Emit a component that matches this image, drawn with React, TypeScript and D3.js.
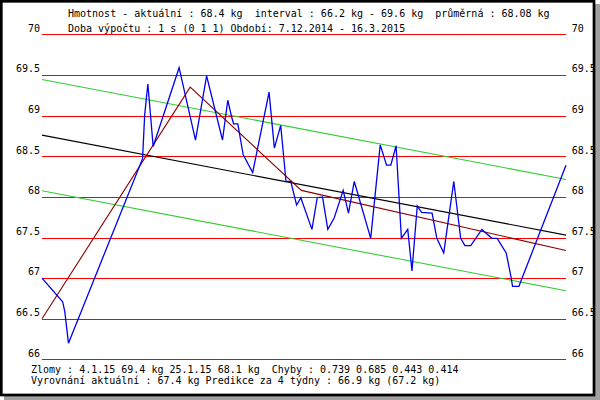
import React from "react";
import * as d3 from "d3";

const startDate = Date.UTC(2014, 11, 7);
const endDate = Date.UTC(2015, 2, 16);

const yTicks = [70, 69.5, 69, 68.5, 68, 67.5, 67, 66.5, 66];

const blueDays = [0, 3.9, 4.3, 5.0, 19.0, 19.4, 20.0, 20.5, 21.0, 25.9, 29.0, 31.1, 34.1, 35.1, 35.8, 36.2, 37.0, 38.0, 39.8, 42.9, 43.9, 45.1, 46.1, 47.0, 48.1, 48.9, 51.0, 52.0, 53.0, 54.0, 55.2, 56.9, 57.9, 59.0, 62.1, 63.9, 65.1, 65.9, 66.9, 67.9, 69.1, 69.9, 70.9, 71.7, 73.7, 74.6, 75.9, 77.8, 79.1, 79.9, 81.0, 83.1, 85.0, 86.0, 87.7, 88.6, 88.9, 90.1, 99];
const blueValues = [67.00, 66.71, 66.59, 66.20, 68.47, 69.01, 69.39, 69.01, 68.62, 69.59, 68.70, 69.49, 68.70, 69.19, 68.99, 68.90, 68.90, 68.52, 68.30, 69.29, 68.60, 68.88, 68.19, 68.19, 67.90, 67.99, 67.60, 67.99, 68.00, 67.60, 67.74, 68.08, 67.80, 68.19, 67.49, 68.64, 68.39, 68.39, 68.63, 67.49, 67.60, 67.09, 67.89, 67.81, 67.80, 67.49, 67.31, 68.19, 67.49, 67.40, 67.40, 67.60, 67.49, 67.49, 67.31, 67.02, 66.90, 66.90, 68.39];

const regDays = [0, 99];
const regValues = [68.76, 67.53];
const bandOffset = 0.685;

const breakDays = [0, 28, 49, 99];
const breakValues = [66.5, 69.35, 68.08, 67.34];

const headerLines = [
  "Hmotnost - aktuální : 68.4 kg  interval : 66.2 kg - 69.6 kg  průměrná : 68.08 kg",
  "Doba výpočtu : 1 s (0 1 1) Období: 7.12.2014 - 16.3.2015",
];
const footerLines = [
  "Zlomy : 4.1.15 69.4 kg 25.1.15 68.1 kg  Chyby : 0.739 0.685 0.443 0.414",
  "Vyrovnání aktuální : 67.4 kg Predikce za 4 týdny : 66.9 kg (67.2 kg)",
];

const dayToDate = (d: number) => new Date(startDate + d * 86400000);

export default function App() {
  const W = 600;
  const H = 400;
  const x = d3.scaleUtc().domain([new Date(startDate), new Date(endDate)]).range([42, 566]);
  const y = d3.scaleLinear().domain([66, 70]).range([359.4, 34.4]);

  const line = d3
    .line<[number, number]>()
    .x((p) => x(dayToDate(p[0])))
    .y((p) => y(p[1]));

  const zip = (ds: number[], vs: number[], off = 0) =>
    ds.map((d, i) => [d, vs[i] + off] as [number, number]);

  const font = "'DejaVu Sans Mono', monospace";

  return (
    <svg
      width={W}
      height={H}
      style={{ position: "fixed", left: 0, top: 0, background: "#fff" }}
      fontFamily={font}
      fontSize={10}
    >
      <rect x={4} y={4} width={596} height={396} fill="#a0a0a0" />
      <rect x={1.3} y={1.3} width={592.7} height={393.7} fill="#fff" stroke="#000" strokeWidth={2.7} />

      {yTicks.map((t) => (
        <g key={t}>
          <line
            x1={x.range()[0]}
            x2={x.range()[1]}
            y1={Math.round(y(t)) + 0.5}
            y2={Math.round(y(t)) + 0.5}
            stroke="#ff0000"
            strokeWidth={1.2}
          />
          <text x={40} y={y(t) - 2.7} textAnchor="end" fill="#000">
            {String(t)}
          </text>
          <text x={571.7} y={y(t) - 2.7} fill="#000">
            {String(t)}
          </text>
        </g>
      ))}

      <path d={line(zip(regDays, regValues, bandOffset)) || ""} fill="none" stroke="#33cc33" strokeWidth={1.1} />
      <path d={line(zip(regDays, regValues, -bandOffset)) || ""} fill="none" stroke="#33cc33" strokeWidth={1.1} />
      <path d={line(zip(regDays, regValues)) || ""} fill="none" stroke="#000" strokeWidth={1.1} />
      <path d={line(zip(breakDays, breakValues)) || ""} fill="none" stroke="#8b0000" strokeWidth={1.1} />
      <path d={line(zip(blueDays, blueValues)) || ""} fill="none" stroke="#0000ee" strokeWidth={1.3} strokeLinejoin="miter" />

      {headerLines.map((t, i) => (
        <text key={t} x={68} y={16.7 + i * 15.6} fill="#000" style={{ whiteSpace: "pre" }}>
          {t}
        </text>
      ))}
      {footerLines.map((t, i) => (
        <text key={t} x={31} y={373.3 + i * 11} fill="#000" style={{ whiteSpace: "pre" }}>
          {t}
        </text>
      ))}
    </svg>
  );
}
